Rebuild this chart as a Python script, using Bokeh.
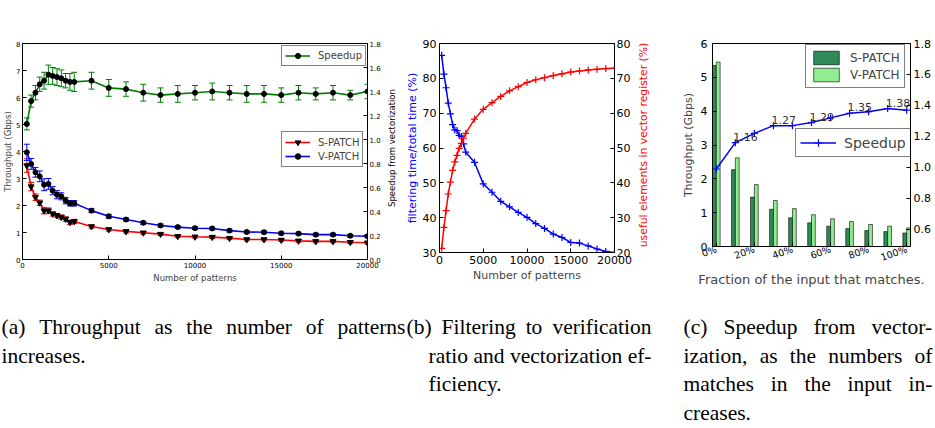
import math
from bokeh.plotting import figure
from bokeh.layouts import row, column
from bokeh.models import (Range1d, LinearAxis, FixedTicker, Whisker, TeeHead, ColumnDataSource,
                          Legend, LegendItem, NumeralTickFormatter)
from bokeh.core.properties import value
from bokeh.embed import file_html
from bokeh.resources import INLINE

# ---------------- data ----------------
patterns = [250, 500, 750, 1000, 1250, 1500, 1750, 2000, 2250, 2500, 2750, 3000,
            4000, 5000, 6000, 7000, 8000, 9000, 10000, 11000, 12000, 13000, 14000,
            15000, 16000, 17000, 18000, 19000, 20000]
s_patch = [3.48, 2.70, 2.31, 2.10, 1.81, 1.81, 1.69, 1.63, 1.57, 1.50, 1.38, 1.41,
           1.22, 1.11, 1.04, 0.99, 0.94, 0.86, 0.84, 0.83, 0.79, 0.74, 0.74, 0.72,
           0.69, 0.67, 0.67, 0.64, 0.62]
s_patch_err = [0.25, 0.15, 0.12, 0.10, 0.12, 0.10, 0.08, 0.08, 0.08, 0.08, 0.08, 0.08,
               0.06, 0.06, 0.06, 0.05, 0.05, 0.05, 0.05, 0.05, 0.05, 0.05, 0.05, 0.05,
               0.05, 0.05, 0.05, 0.05, 0.05]
v_patch = [3.97, 3.54, 3.23, 3.08, 2.77, 2.80, 2.55, 2.40, 2.34, 2.18, 2.08, 2.08,
           1.81, 1.60, 1.48, 1.36, 1.26, 1.20, 1.16, 1.15, 1.07, 1.02, 1.01, 0.97,
           0.96, 0.92, 0.92, 0.88, 0.86]
v_patch_err = [0.30, 0.20, 0.18, 0.20, 0.22, 0.20, 0.15, 0.15, 0.13, 0.12, 0.10, 0.10,
               0.07, 0.07, 0.06, 0.06, 0.05, 0.05, 0.05, 0.05, 0.05, 0.05, 0.05, 0.05,
               0.05, 0.05, 0.05, 0.05, 0.05]
speedup_a = [1.13, 1.32, 1.39, 1.46, 1.49, 1.54, 1.53, 1.52, 1.51, 1.49, 1.48, 1.48,
             1.49, 1.43, 1.42, 1.39, 1.37, 1.38, 1.39, 1.40, 1.39, 1.38, 1.38, 1.37,
             1.39, 1.38, 1.39, 1.37, 1.40]
speedup_a_err = [0.05, 0.05, 0.06, 0.06, 0.07, 0.08, 0.07, 0.07, 0.07, 0.06, 0.07, 0.08,
                 0.07, 0.07, 0.06, 0.07, 0.06, 0.07, 0.06, 0.07, 0.06, 0.07, 0.07, 0.06,
                 0.06, 0.05, 0.06, 0.04, 0.06]

filter_ratio = [86.6, 81.2, 77.3, 72.9, 69.8, 66.7, 65.2, 65.0, 63.6, 63.3, 61.2, 58.8,
                55.9, 49.7, 47.3, 44.7, 43.1, 41.5, 40.1, 38.3, 36.9, 35.3, 34.3, 32.9,
                32.7, 31.9, 31.0, 30.3, 30.0]
useful_elements = [21.2, 27.2, 32.0, 36.8, 40.2, 43.6, 46.0, 47.9, 49.9, 51.3, 52.8, 54.2,
                   58.3, 61.1, 63.0, 64.8, 66.4, 67.6, 68.8, 69.6, 70.2, 70.8, 71.3, 71.8,
                   72.1, 72.4, 72.6, 72.8, 72.9]

fractions = [0, 10, 20, 30, 40, 50, 60, 70, 80, 90, 100]
s_bars = [5.35, 2.27, 1.46, 1.10, 0.85, 0.70, 0.60, 0.53, 0.47, 0.44, 0.40]
v_bars = [5.45, 2.62, 1.83, 1.36, 1.12, 0.94, 0.82, 0.74, 0.65, 0.60, 0.55]
speedup_c = [0.99, 1.16, 1.22, 1.27, 1.27, 1.29, 1.32, 1.35, 1.36, 1.38, 1.37]
labelled_idx = [1, 3, 5, 7, 9]
frac_tick_labels = ["0%", "20%", "40%", "60%", "80%", "100%"]

pattern_ticks = [0, 5000, 10000, 15000, 20000]

caption_a = ["(a) Throughput as the number of patterns", "increases."]
caption_b = ["(b) Filtering to verification", "ratio and vectorization ef-", "ficiency."]
caption_c = ["(c) Speedup from vector-", "ization, as the numbers of",
             "matches in the input in-", "creases."]

# ---------------- helpers ----------------
FONT = "DejaVu Sans"
SERIF = "Liberation Serif"


def style(ax, tick_fs, label_fs, label_standoff=2, tick_standoff=2):
    ax.major_label_text_font = FONT
    ax.major_label_text_font_size = tick_fs
    ax.major_label_text_color = "black"
    ax.axis_label_text_font = FONT
    ax.axis_label_text_font_size = label_fs
    ax.axis_label_text_font_style = "normal"
    ax.major_tick_in = 4
    ax.major_tick_out = 0
    ax.minor_tick_in = 0
    ax.minor_tick_out = 0
    ax.major_tick_line_color = "black"
    ax.axis_line_color = "black"
    ax.major_label_standoff = tick_standoff
    ax.axis_label_standoff = label_standoff


def base_fig(width, left, right, bottom, xr, yr):
    p = figure(width=width, height=290, x_range=xr, y_range=yr, output_backend="svg",
               toolbar_location=None, min_border_left=left, min_border_right=right,
               min_border_top=43, min_border_bottom=bottom)
    try:
        p.frame_align = False
    except Exception:
        pass
    p.grid.visible = False
    p.outline_line_color = "black"
    p.outline_line_width = 1
    p.background_fill_color = "white"
    p.border_fill_color = "white"
    return p


def right_axis(rng, ticks, fmt=None):
    ax = LinearAxis(y_range_name=rng, ticker=FixedTicker(ticks=ticks))
    if fmt:
        ax.formatter = NumeralTickFormatter(format=fmt)
    return ax


def title_axis(text, fs, standoff, color="black"):
    # an axis that carries only a (bottom-to-top) title; used for the right-hand
    # titles of the neighbouring panel so that they read like the original
    ax = LinearAxis(ticker=FixedTicker(ticks=[]), axis_label=text)
    ax.axis_label_text_font = FONT
    ax.axis_label_text_font_size = fs
    ax.axis_label_text_font_style = "normal"
    ax.axis_label_text_color = color
    ax.axis_label_standoff = standoff
    ax.axis_line_color = None
    ax.major_tick_line_color = None
    ax.minor_tick_line_color = None
    ax.major_tick_in = 0
    ax.major_tick_out = 0
    ax.minor_tick_in = 0
    ax.minor_tick_out = 0
    ax.major_label_standoff = 0
    return ax


def make_legend(items, loc, fs, glyph_w, lh, pad=3):
    lg = Legend(items=items, location=loc)
    lg.label_text_font = FONT
    lg.label_text_font_size = fs
    lg.border_line_color = "black"
    lg.border_line_width = 1
    lg.padding = pad
    lg.spacing = 0
    lg.margin = 0
    lg.label_height = lh
    lg.glyph_height = lh
    lg.glyph_width = glyph_w
    lg.label_standoff = 8
    lg.background_fill_color = "white"
    lg.background_fill_alpha = 1
    return lg


# ---------------- (a) ----------------
fa = base_fig(383, 17, 15, 31, Range1d(0, 20000), Range1d(0, 8))
fa.extra_y_ranges = {"sp": Range1d(0, 1.8)}
xa = fa.xaxis[0]
ya = fa.yaxis[0]
xa.ticker = FixedTicker(ticks=pattern_ticks)
ya.ticker = FixedTicker(ticks=list(range(0, 9)))
xa.axis_label = "Number of patterns"
ya.axis_label = "Throughput (Gbps)"
style(xa, "7px", "8.5px")
style(ya, "7px", "8.5px", label_standoff=0)
ra = right_axis("sp", [0.0, 0.2, 0.4, 0.6, 0.8, 1.0, 1.2, 1.4, 1.6, 1.8], "0.0")
style(ra, "7px", "8.5px")
fa.add_layout(ra, "right")

series_a = [
    (s_patch, s_patch_err, "red", "inverted_triangle", 6, None),
    (v_patch, v_patch_err, "blue", "circle", 5, None),
    (speedup_a, speedup_a_err, "green", "circle", 5, "sp"),
]
rend_a = []
for vals, errs, col, mk, sz, rn in series_a:
    kw = {"y_range_name": rn} if rn else {}
    src = ColumnDataSource(dict(x=patterns, y=vals,
                                lo=[v - e for v, e in zip(vals, errs)],
                                up=[v + e for v, e in zip(vals, errs)]))
    ln = fa.line("x", "y", source=src, line_color=col, line_width=1.6, **kw)
    wk = Whisker(source=src, base="x", lower="lo", upper="up", line_color=col, line_width=1,
                 upper_head=TeeHead(size=6, line_color=col, line_width=1),
                 lower_head=TeeHead(size=6, line_color=col, line_width=1), **kw)
    fa.add_layout(wk)
    sc = fa.scatter("x", "y", source=src, marker=mk, size=sz, fill_color="black",
                    line_color="black", **kw)
    rend_a.append((ln, sc))

lg_a1 = make_legend([LegendItem(label="Speedup", renderers=list(rend_a[2]))],
                    (259, 193), "10px", 25, 13)
lg_a2 = make_legend([LegendItem(label="S-PATCH", renderers=list(rend_a[0])),
                     LegendItem(label="V-PATCH", renderers=list(rend_a[1]))],
                    (259, 92), "10px", 25, 14)
fa.add_layout(lg_a1)
fa.add_layout(lg_a2)

# ---------------- (b) ----------------
fb = base_fig(250, 55, 17, 38, Range1d(0, 20000), Range1d(30, 90))
fb.extra_y_ranges = {"ue": Range1d(20, 80)}
xb = fb.xaxis[0]
yb = fb.yaxis[0]
xb.ticker = FixedTicker(ticks=pattern_ticks)
yb.ticker = FixedTicker(ticks=[30, 40, 50, 60, 70, 80, 90])
xb.axis_label = "Number of patterns"
yb.axis_label = "filtering time/total time (%)"
style(xb, "11px", "11px", tick_standoff=3)
style(yb, "11px", "11px", label_standoff=1, tick_standoff=3)
yb.axis_label_text_color = "blue"
rb = right_axis("ue", [20, 30, 40, 50, 60, 70, 80])
style(rb, "11px", "11px", tick_standoff=2)
fb.add_layout(rb, "right")
# right-hand title of panel (a)
fb.add_layout(title_axis("Speedup from vectorization", "8.5px", 6), "left")

fb.line(patterns, filter_ratio, line_color="blue", line_width=1.5)
fb.scatter(patterns, filter_ratio, marker="cross", size=7, line_color="blue", line_width=1.2)
fb.line(patterns, useful_elements, line_color="red", line_width=1.5, y_range_name="ue")
fb.scatter(patterns, useful_elements, marker="cross", size=7, line_color="red", line_width=1.2,
           y_range_name="ue")

# ---------------- (c) ----------------
BW = 2  # bar width in x units
fc = base_fig(302, 79, 25, 44, Range1d(0, 104), Range1d(0, 6))
fc.extra_y_ranges = {"sp": Range1d(0.49, 1.8)}
xc = fc.xaxis[0]
yc = fc.yaxis[0]
tick_pos_c = [f + BW for f in fractions[::2]]
xc.ticker = FixedTicker(ticks=tick_pos_c)
xc.major_label_overrides = {t: lab for t, lab in zip(tick_pos_c, frac_tick_labels)}
xc.major_label_orientation = math.pi / 9
xc.axis_label = "Fraction of the input that matches."
yc.ticker = FixedTicker(ticks=[0, 1, 2, 3, 4, 5, 6])
yc.axis_label = "Throughput (Gbps)"
style(xc, "9.5px", "13px", label_standoff=1)
style(yc, "11px", "11px", label_standoff=3, tick_standoff=5)
rc = right_axis("sp", [0.6, 0.8, 1.0, 1.2, 1.4, 1.6, 1.8], "0.0")
style(rc, "11px", "11px", tick_standoff=3)
fc.add_layout(rc, "right")
# right-hand title of panel (b)
fc.add_layout(title_axis("useful elements in vector register (%)", "10.8px", 29, "red"), "left")

bs = fc.vbar(x=[f + BW / 2 for f in fractions], width=BW, top=s_bars, bottom=0,
             fill_color="#2e8b57", line_color="black", line_width=0.6)
bv = fc.vbar(x=[f + 1.5 * BW for f in fractions], width=BW, top=v_bars, bottom=0,
             fill_color="#90ee90", line_color="black", line_width=0.6)
sx = [f + BW for f in fractions]
lc = fc.line(sx, speedup_c, line_color="blue", line_width=1.5, y_range_name="sp")
mc = fc.scatter(sx, speedup_c, marker="cross", size=7, line_color="blue", line_width=1.2,
                y_range_name="sp")
fc.text(x=[sx[i] for i in labelled_idx], y=[speedup_c[i] for i in labelled_idx],
        text=[f"{speedup_c[i]:.2f}" for i in labelled_idx], y_range_name="sp",
        x_offset=-2, y_offset=-6, text_align="left", text_baseline="alphabetic",
        text_font=value(FONT), text_font_size="11px", text_color="#333333")

lg_c1 = make_legend([LegendItem(label="S-PATCH", renderers=[bs]),
                     LegendItem(label="V-PATCH", renderers=[bv])],
                    (93, 158), "12px", 32, 17, pad=4)
lg_c2 = make_legend([LegendItem(label="Speedup", renderers=[lc, mc])],
                    (83, 89), "14px", 36, 19, pad=4)
fc.add_layout(lg_c1)
fc.add_layout(lg_c2)

# ---------------- captions ----------------
TIMES_W = {'a': 444, 'b': 500, 'c': 444, 'd': 500, 'e': 444, 'f': 333, 'g': 500, 'h': 500,
           'i': 278, 'j': 278, 'k': 500, 'l': 278, 'm': 778, 'n': 500, 'o': 500, 'p': 500,
           'q': 500, 'r': 333, 's': 389, 't': 278, 'u': 500, 'v': 500, 'w': 722, 'x': 500,
           'y': 500, 'z': 444, '(': 333, ')': 333, ',': 250, '.': 250, '-': 333, 'T': 611,
           'F': 556, 'S': 556, ' ': 250}
CAP_FS = 21.5


def tw(s):
    return sum(TIMES_W.get(ch, 500) for ch in s) / 1000.0 * CAP_FS


fcap = figure(width=935, height=138, x_range=Range1d(0, 935), y_range=Range1d(428, 290),
              output_backend="svg", toolbar_location=None, min_border=0,
              x_axis_type=None, y_axis_type=None)
fcap.grid.visible = False
fcap.outline_line_color = None
fcap.background_fill_color = "white"
fcap.border_fill_color = "white"

baselines = [326, 355, 383, 412]
columns_spec = [
    (caption_a, [1, 1], 405),
    (caption_b, [406, 428, 428], 651),
    (caption_c, [683, 683, 683, 683], 932),
]
cx, cy, ct = [], [], []
for lines, x0s, x1 in columns_spec:
    for li, line in enumerate(lines):
        x0 = x0s[li]
        y = baselines[li]
        if li < len(lines) - 1:
            words = line.split()
            total = sum(tw(w) for w in words)
            gap = (x1 - x0 - total) / (len(words) - 1)
            x = x0
            for w in words:
                cx.append(x)
                cy.append(y)
                ct.append(w)
                x += tw(w) + gap
        else:
            cx.append(x0)
            cy.append(y)
            ct.append(line)
fcap.text(x=cx, y=cy, text=ct, text_align="left", text_baseline="alphabetic",
          text_font=value(SERIF), text_font_size=f"{CAP_FS}px", text_color="black")

layout = column(row(fa, fb, fc), fcap)
open("out.html", "w").write(file_html(layout, INLINE))
